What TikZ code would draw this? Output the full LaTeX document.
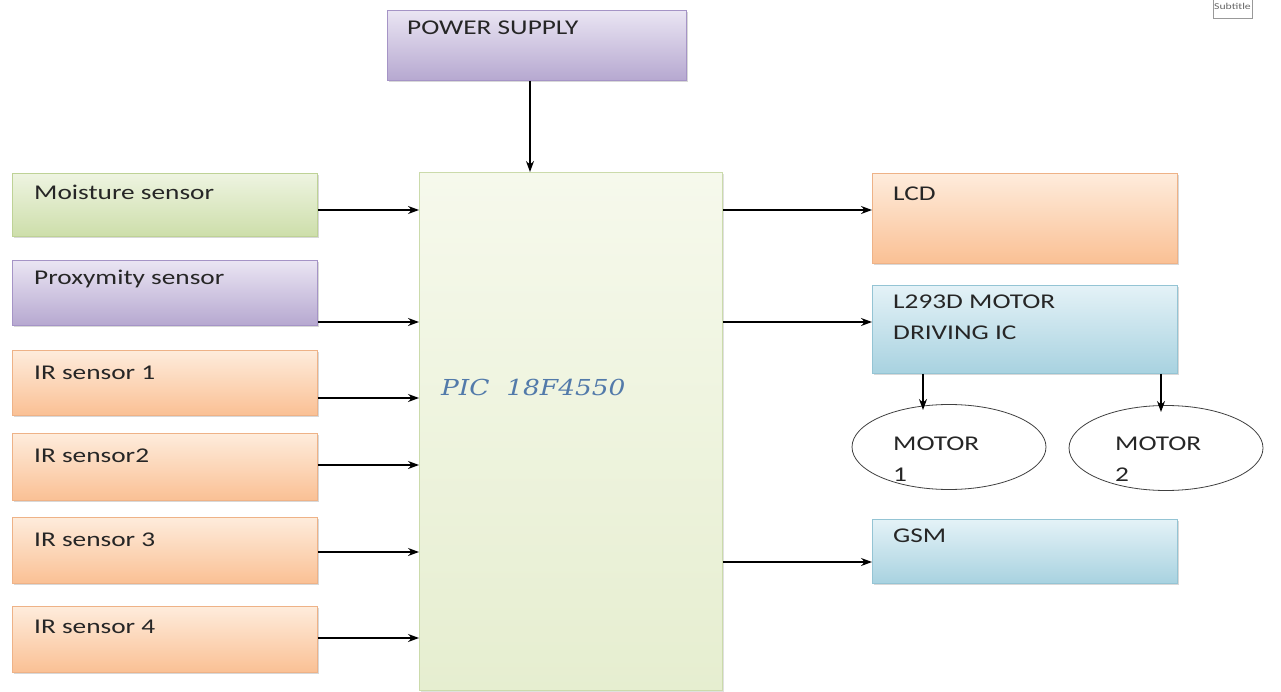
\documentclass[tikz,border=0pt]{standalone}
\usepackage{fontspec}
\setmainfont{Carlito}[FakeStretch=1.3]
\newfontfamily\picfont{DejaVu Serif}[FakeStretch=1.2]
\usetikzlibrary{arrows.meta,shapes.geometric,shadows}
\definecolor{gB}{RGB}{205,222,170}\definecolor{gT}{RGB}{238,244,225}\definecolor{gD}{RGB}{190,210,150}
\definecolor{pB}{RGB}{182,168,208}\definecolor{pT}{RGB}{234,229,243}\definecolor{pD}{RGB}{165,148,198}
\definecolor{oB}{RGB}{250,192,148}\definecolor{oT}{RGB}{254,236,220}\definecolor{oD}{RGB}{238,178,135}
\definecolor{bB}{RGB}{168,210,224}\definecolor{bT}{RGB}{228,242,247}\definecolor{bD}{RGB}{148,196,212}
\definecolor{picT}{RGB}{246,249,236}\definecolor{picB}{RGB}{230,238,208}
\definecolor{picText}{RGB}{82,122,170}
\tikzset{
  x=1pt,y=-1pt,
  blk/.style={anchor=north west,inner sep=0pt,draw=#1D,line width=0.8pt,
     top color=#1T,bottom color=#1B,
     drop shadow={shadow xshift=1.5pt,shadow yshift=-2pt,opacity=0.25,fill=black!60}},
  txt/.style={font=\fontsize{21}{31}\selectfont,text=black!85,anchor=north west,inner sep=0pt},
  conn/.style={-{Stealth[length=11pt,width=8pt]},line width=1.1pt,black},
  motor/.style={ellipse,draw=black!75,line width=0.8pt,minimum width=194pt,minimum height=85pt,inner sep=0pt}
}
\begin{document}
\begin{tikzpicture}
\useasboundingbox[fill=white] (0,0) rectangle (1281,692);
% subtitle tag
\node[anchor=north west,draw=black!40,fill=white,minimum width=30pt,minimum height=23pt,inner sep=1pt,
  font=\fontsize{9}{10}\selectfont,text=black!60] (sub) at (1213,-5) {Subtitle};
% power supply
\node[blk=p,minimum width=299pt,minimum height=70pt] (ps) at (387,10) {};
\node[txt] (pst) at (407,21) {POWER SUPPLY};
% PIC
\node[anchor=north west,inner sep=0pt,draw=gD!80,line width=0.8pt,top color=picT,bottom color=picB,
  minimum width=303pt,minimum height=518pt,
  drop shadow={shadow xshift=1.5pt,shadow yshift=-2pt,opacity=0.2,fill=black!60}] (pic) at (419,172) {};
\node[anchor=west,inner sep=0pt,font=\picfont\itshape\fontsize{22}{26}\selectfont,text=picText] (pict) at (441,387) {PIC\ \ 18F4550};
% inputs
\node[blk=g,minimum width=305pt,minimum height=63pt] (ms) at (12,173) {};
\node[txt] at (34,185) {Moisture sensor};
\node[blk=p,minimum width=305pt,minimum height=65pt] (px) at (12,260) {};
\node[txt] at (34,270) {Proxymity sensor};
\node[blk=o,minimum width=305pt,minimum height=65pt] (ir1) at (12,350) {};
\node[txt] at (34,366) {IR sensor 1};
\node[blk=o,minimum width=305pt,minimum height=67pt] (ir2) at (12,433) {};
\node[txt] at (34,449) {IR sensor2};
\node[blk=o,minimum width=305pt,minimum height=66pt] (ir3) at (12,517) {};
\node[txt] at (34,533) {IR sensor 3};
\node[blk=o,minimum width=305pt,minimum height=66pt] (ir4) at (12,606) {};
\node[txt] at (34,620) {IR sensor 4};
% outputs
\node[blk=o,minimum width=305pt,minimum height=90pt] (lcd) at (872,173) {};
\node[txt] at (893,187) {LCD};
\node[blk=b,minimum width=305pt,minimum height=88pt] (drv) at (872,285) {};
\node[txt,align=left] at (893,295) {L293D MOTOR\\DRIVING IC};
\node[blk=b,minimum width=305pt,minimum height=64pt] (gsm) at (872,519) {};
\node[txt] at (893,529) {GSM};
\node[motor] (m1) at (949,447) {};
\node[txt,align=left] at (893,437) {MOTOR\\1};
\node[motor] (m2) at (1166,448) {};
\node[txt,align=left] at (1115,437) {MOTOR\\2};
% connectors
\draw[conn] (ps.south -| 530,0) -- (pic.north -| 530,0);
\draw[conn] (ms.east |- 0,210) -- (pic.west |- 0,210);
\draw[conn] (px.east |- 0,322) -- (pic.west |- 0,322);
\draw[conn] (ir1.east |- 0,398) -- (pic.west |- 0,398);
\draw[conn] (ir2.east |- 0,465) -- (pic.west |- 0,465);
\draw[conn] (ir3.east |- 0,552) -- (pic.west |- 0,552);
\draw[conn] (ir4.east |- 0,638) -- (pic.west |- 0,638);
\draw[conn] (pic.east |- 0,210) -- (lcd.west |- 0,210);
\draw[conn] (pic.east |- 0,322) -- (drv.west |- 0,322);
\draw[conn] (pic.east |- 0,562) -- (gsm.west |- 0,562);
\coordinate (m1top) at (923,410);
\coordinate (m2top) at (1161,412);
\draw[conn] (drv.south -| m1top) -- (m1top);
\draw[conn] (drv.south -| m2top) -- (m2top);
\end{tikzpicture}
\end{document}
